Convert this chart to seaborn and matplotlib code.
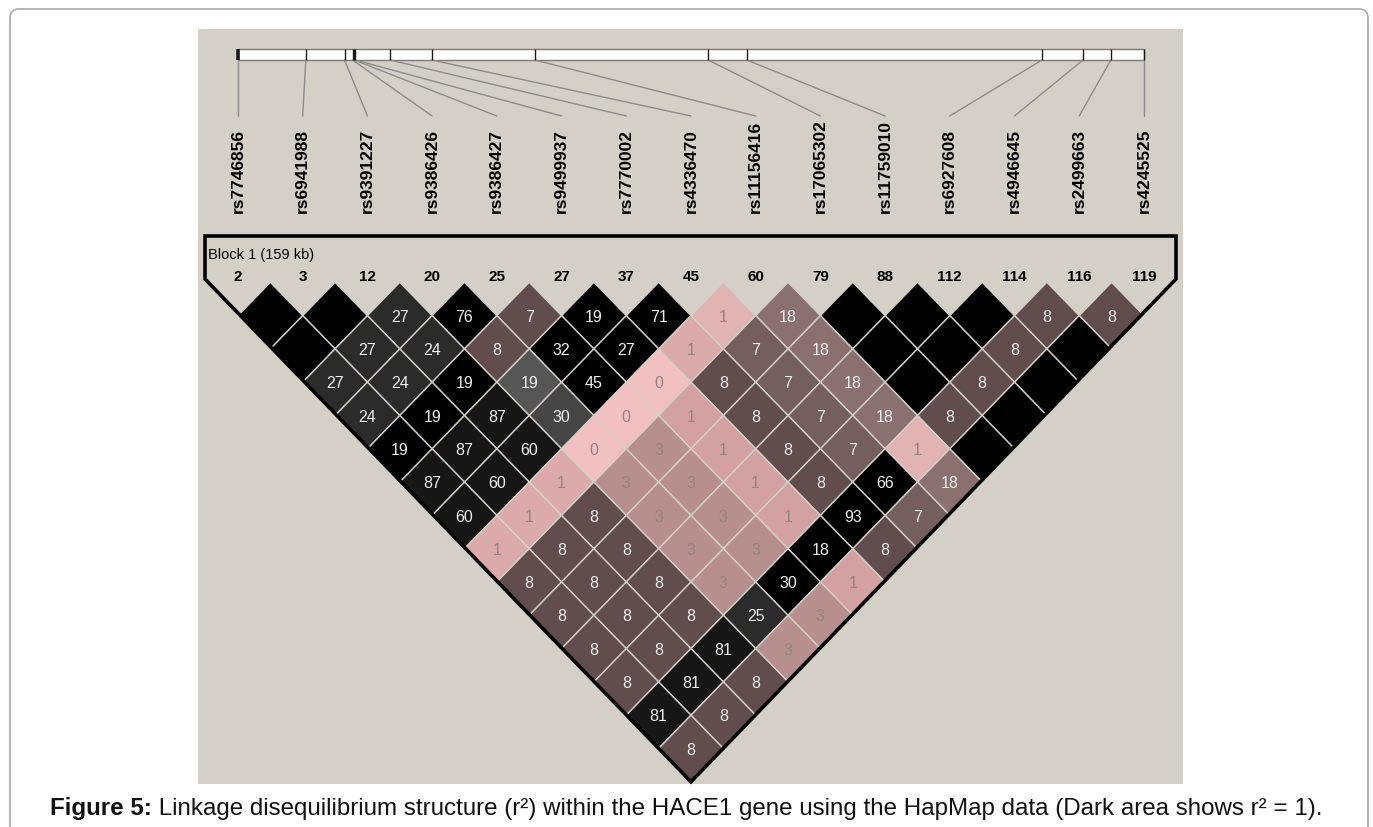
import numpy as np
import pandas as pd
import matplotlib
matplotlib.use("Agg")
import matplotlib.pyplot as plt
import seaborn as sns
from matplotlib.patches import Polygon, Rectangle, FancyBboxPatch
from matplotlib.transforms import IdentityTransform

# ---------------- data ----------------
snp_names = ["rs7746856", "rs6941988", "rs9391227", "rs9386426", "rs9386427",
             "rs9499937", "rs7770002", "rs4336470", "rs11156416", "rs17065302",
             "rs11759010", "rs6927608", "rs4946645", "rs2499663", "rs4245525"]
marker_numbers = [2, 3, 12, 20, 25, 27, 37, 45, 60, 79, 88, 112, 114, 116, 119]
positions_kb = [0.0, 11.9, 18.7, 20.1, 20.4, 20.6, 26.7, 34.0, 52.1,
                82.5, 89.3, 141.1, 148.3, 153.2, 159.0]
block_label = "Block 1 (159 kb)"

# r2 (x100) per distance row d = j - i (1..14); None = r2 of 1 (no label)
r2_d1 = [None, None, 27, 76, 7, 19, 71, 1, 18, None, None, None, 8, 8]
r2_d2 = [None, 27, 24, 8, 32, 27, 1, 7, 18, None, None, 8, None]
r2_d3 = [27, 24, 19, 19, 45, 0, 8, 7, 18, None, 8, None]
r2_d4 = [24, 19, 87, 30, 0, 1, 8, 7, 18, 8, None]
r2_d5 = [19, 87, 60, 0, 3, 1, 8, 7, 1, None]
r2_d6 = [87, 60, 1, 3, 3, 1, 8, 66, 18]
r2_d7 = [60, 1, 8, 3, 3, 1, 93, 7]
r2_d8 = [1, 8, 8, 3, 3, 18, 8]
r2_d9 = [8, 8, 8, 3, 30, 1]
r2_d10 = [8, 8, 8, 25, 3]
r2_d11 = [8, 8, 81, 3]
r2_d12 = [8, 81, 8]
r2_d13 = [81, 8]
r2_d14 = [8]

col_d1 = ['K', 'K', 'G1', 'K', 'B8', 'K', 'K', 'P1L', 'M', 'K', 'K', 'K', 'B8', 'B8']
col_d2 = ['K', 'G1', 'G1', 'B8', 'K', 'K', 'P1', 'B7', 'M', 'K', 'K', 'B8', 'K']
col_d3 = ['G1', 'G1', 'K', 'G2', 'K', 'P0', 'B8', 'B7', 'M', 'K', 'B8', 'K']
col_d4 = ['G1', 'K', 'K1', 'G3', 'P0', 'P1D', 'B8', 'B7', 'M', 'B8', 'K']
col_d5 = ['K', 'K1', 'K1', 'P0', 'R3', 'P1D', 'B8', 'B7', 'P1L', 'K']
col_d6 = ['K1', 'K1', 'P1', 'R3', 'R3', 'P1D', 'B8', 'K', 'M']
col_d7 = ['K1', 'P1', 'B8', 'R3', 'R3', 'P1D', 'K', 'B7']
col_d8 = ['P1', 'B8', 'B8', 'R3', 'R3', 'K', 'B8']
col_d9 = ['B8', 'B8', 'B8', 'R3', 'K', 'P1D']
col_d10 = ['B8', 'B8', 'B8', 'G1', 'R3']
col_d11 = ['B8', 'B8', 'K1', 'R3']
col_d12 = ['B8', 'K1', 'B8']
col_d13 = ['K1', 'B8']
col_d14 = ['B8']

caption_bold = "Figure 5:"
caption_rest = (" Linkage disequilibrium structure (r\u00b2) within the HACE1 gene using "
                "the HapMap data (Dark area shows r\u00b2 = 1).")

r2_rows = [r2_d1, r2_d2, r2_d3, r2_d4, r2_d5, r2_d6, r2_d7, r2_d8, r2_d9,
           r2_d10, r2_d11, r2_d12, r2_d13, r2_d14]
col_rows = [col_d1, col_d2, col_d3, col_d4, col_d5, col_d6, col_d7, col_d8,
            col_d9, col_d10, col_d11, col_d12, col_d13, col_d14]

palette = {
    'K': '#000000', 'K1': '#161616', 'G1': '#2b2b2b', 'G2': '#565656', 'G3': '#464646',
    'B8': '#614d4d', 'B7': '#755e5e', 'M': '#8b7070', 'R3': '#b78f8f',
    'P1': '#dcaaaa', 'P1D': '#d3a1a1', 'P1L': '#e2b3b3', 'P0': '#f2c0c0',
}
light_codes = {'R3', 'P1', 'P1D', 'P1L', 'P0'}

# ---------------- style / layout ----------------
sns.set_theme(style="white")
plt.rcParams['font.family'] = ['Liberation Sans', 'DejaVu Sans']

W, H = 1373, 828
X0, XS = 238.0, 64.71   # pixel of SNP 0, pixels per SNP index
Y0, YS = 283.3, 33.3    # pixel of top vertex row, pixels per depth unit
BG = '#d4d0c8'

def px2x(px):
    return (px - X0) / XS

def px2y(py):
    return (py - Y0) / YS

fig = plt.figure(figsize=(W / 100, H / 100), dpi=100)
fig.patch.set_facecolor('white')

# white card with rounded grey border (pixel coordinates)
card = FancyBboxPatch((10, -40), W - 10 - 5, H - 10 + 40,
                      boxstyle="round,pad=0,rounding_size=9",
                      transform=IdentityTransform(), facecolor='white',
                      edgecolor='#a8a8a8', linewidth=1.2, zorder=-5)
fig.patches.append(card)

ax = fig.add_axes([0, 0, 1, 1])
ax.set_zorder(1)
ax.patch.set_alpha(0)

# grey panel
ax.add_patch(Rectangle((px2x(198), px2y(30)), px2x(1183) - px2x(198),
                       px2y(785) - px2y(30), facecolor=BG, edgecolor='none', zorder=1))

n = len(snp_names)
snp_idx = np.arange(n)
track_x = np.array(positions_kb) / positions_kb[-1] * (n - 1)

# gene track bar
bar_top, bar_bot = px2y(50), px2y(61)
ax.add_patch(Rectangle((track_x[0], bar_top), track_x[-1] - track_x[0], bar_bot - bar_top,
                       facecolor='white', edgecolor='#7a7a7a', linewidth=1, zorder=2))
for k, tx in enumerate(track_x):
    ax.plot([tx, tx], [bar_top, bar_bot], color='#1a1a1a',
            lw=2.6 if k == 0 else 1.0, zorder=3, solid_capstyle='butt')

# connector lines via seaborn
conn = pd.DataFrame({
    'snp': np.repeat(snp_idx, 2),
    'x': np.ravel(np.column_stack([track_x, snp_idx])),
    'y': np.tile([bar_bot, px2y(117)], n),
})
sns.lineplot(data=conn, x='x', y='y', units='snp', estimator=None, sort=False,
             color='#8c8c8c', linewidth=1.0, ax=ax, legend=False, zorder=2)

# SNP labels
for i, name in enumerate(snp_names):
    ax.text(i, px2y(213), name, rotation=90, ha='center', va='bottom',
            fontsize=12.5, fontweight='bold', color='black', zorder=4)

# block header
ax.text(px2x(208), px2y(255), block_label, ha='left', va='center',
        fontsize=10.5, color='black', zorder=4)
for i, num in enumerate(marker_numbers):
    ax.text(i, px2y(277), str(num), ha='center', va='center',
            fontsize=11, fontweight='bold', color='black', zorder=4)

# LD diamonds
for d, (vals, cols) in enumerate(zip(r2_rows, col_rows), start=1):
    for i, (v, c) in enumerate(zip(vals, cols)):
        j = i + d
        m = (i + j) / 2.0
        verts = [(m, d - 1), (m + 0.5, d), (m, d + 1), (m - 0.5, d)]
        ax.add_patch(Polygon(verts, closed=True, facecolor=palette[c],
                             edgecolor=BG, linewidth=1.0, zorder=3))
        if v is not None:
            tcol = '#958282' if c in light_codes else '#eeeeee'
            ax.text(m, d + 0.02, str(v), ha='center', va='center', fontsize=11.5,
                    color=tcol, zorder=4)

# block outline
apex = ((n - 1) / 2.0, n)
outline = [(px2x(205), px2y(237)), (px2x(205), px2y(280)), apex,
           (px2x(1176), px2y(280)), (px2x(1176), px2y(237))]
ax.add_patch(Polygon(outline, closed=True, fill=False, edgecolor='black',
                     linewidth=2.6, joinstyle='miter', zorder=5))

ax.set_xlim(px2x(0), px2x(W))
ax.set_ylim(px2y(H), px2y(0))
ax.axis('off')

# caption
fs = 15.5
base_y = (H - 815) / H
t1 = fig.text(50 / W, base_y, caption_bold, fontsize=fs, fontweight='bold',
              ha='left', va='baseline', color='#111111')
t2 = fig.text(0, base_y, caption_rest, fontsize=fs, ha='left', va='baseline',
              color='#111111')
r = fig.canvas.get_renderer()
total = t1.get_window_extent(r).width + t2.get_window_extent(r).width
fs = fs * (1320 - 50) / total
t1.set_fontsize(fs)
t2.set_fontsize(fs)
w1 = t1.get_window_extent(r).width
t2.set_x((50 + w1) / W)

fig.savefig("out.png", dpi=100, facecolor='white')
